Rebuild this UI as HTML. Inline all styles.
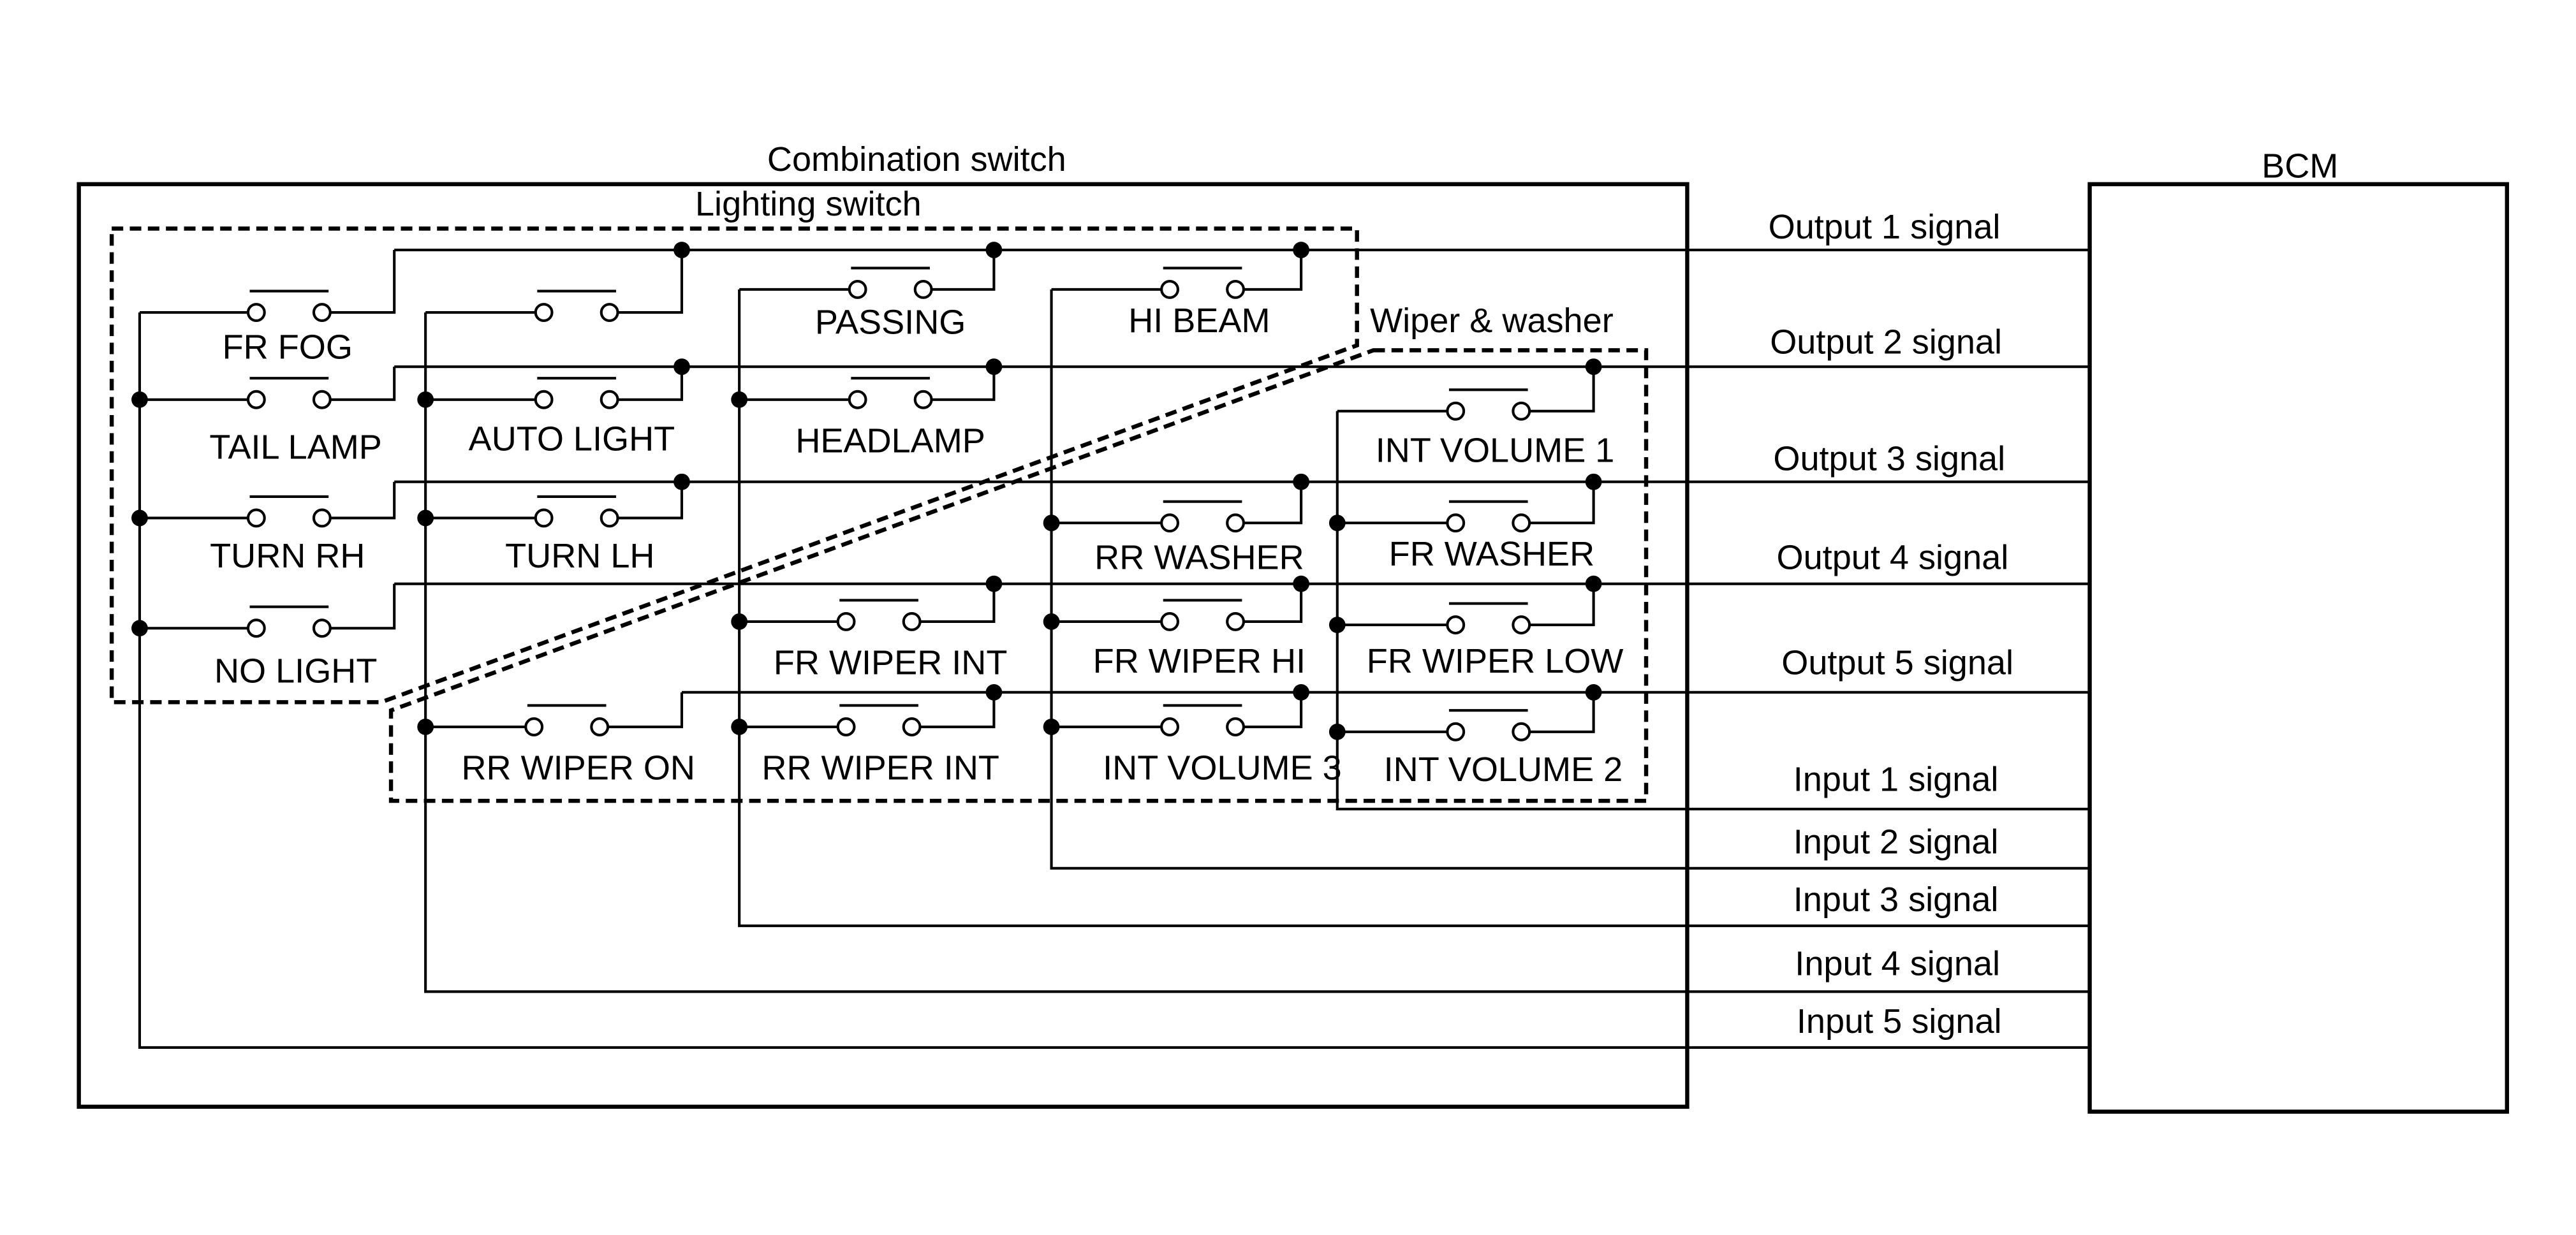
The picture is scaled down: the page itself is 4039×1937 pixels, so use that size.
<!DOCTYPE html>
<html><head><meta charset="utf-8"><style>
html,body{margin:0;padding:0;background:#fff;}
svg{display:block;}
text{font-family:"Liberation Sans",sans-serif;font-size:21px;fill:#000;text-anchor:middle;}
</style></head><body>
<svg width="4039" height="1937" viewBox="0 0 1568 751" preserveAspectRatio="none" xmlns="http://www.w3.org/2000/svg" xmlns:xlink="http://www.w3.org/1999/xlink">
<defs>
<g id="c" stroke="#000" stroke-width="1.6"><circle cx="0" cy="0" r="5" fill="#fff"/><circle cx="40" cy="0" r="5" fill="#fff"/><path d="M-4,-13H44" fill="none"/></g>
</defs>
<g fill="none" stroke="#000" stroke-width="1.6">
<rect x="48" y="112" width="979" height="561" stroke-width="2.5"/>
<rect x="1272" y="112" width="254" height="564" stroke-width="2.5"/>
<path d="M68,139 H826 V210 L232,427 H68 Z" stroke-dasharray="7,4" stroke-width="2.5"/>
<path d="M836,213 H1002 V487 H238 V432 Z" stroke-dasharray="7,4" stroke-width="2.5"/>
<path d="M240,152 H1272 M240,223 H1272 M240,293 H1272 M240,355 H1272 M415,421 H1272"/>
<path d="M85,190 V637 H1272 M259,190 V603 H1272 M450,176 V563 H1272 M640,176 V528 H1272 M814,250 V492 H1272"/>
<path d="M85,190H151M201,190H240V152"/>
<path d="M85,243H151M201,243H240V223"/>
<path d="M85,315H151M201,315H240V293"/>
<path d="M85,382H151M201,382H240V355"/>
<path d="M259,190H326M376,190H415V152"/>
<path d="M259,243H326M376,243H415V223"/>
<path d="M259,315H326M376,315H415V293"/>
<path d="M259,442H320M370,442H415V421"/>
<path d="M450,176H517M567,176H605V152"/>
<path d="M450,243H517M567,243H605V223"/>
<path d="M450,378H510M560,378H605V355"/>
<path d="M450,442H510M560,442H605V421"/>
<path d="M640,176H707M757,176H792V152"/>
<path d="M640,318H707M757,318H792V293"/>
<path d="M640,378H707M757,378H792V355"/>
<path d="M640,442H707M757,442H792V421"/>
<path d="M814,250H881M931,250H970V223"/>
<path d="M814,318H881M931,318H970V293"/>
<path d="M814,380H881M931,380H970V355"/>
<path d="M814,445H881M931,445H970V421"/>
</g>
<use xlink:href="#c" x="156" y="190"/><use xlink:href="#c" x="156" y="243"/><use xlink:href="#c" x="156" y="315"/><use xlink:href="#c" x="156" y="382"/>
<use xlink:href="#c" x="331" y="190"/><use xlink:href="#c" x="331" y="243"/><use xlink:href="#c" x="331" y="315"/><use xlink:href="#c" x="325" y="442"/>
<use xlink:href="#c" x="522" y="176"/><use xlink:href="#c" x="522" y="243"/><use xlink:href="#c" x="515" y="378"/><use xlink:href="#c" x="515" y="442"/>
<use xlink:href="#c" x="712" y="176"/><use xlink:href="#c" x="712" y="318"/><use xlink:href="#c" x="712" y="378"/><use xlink:href="#c" x="712" y="442"/>
<use xlink:href="#c" x="886" y="250"/><use xlink:href="#c" x="886" y="318"/><use xlink:href="#c" x="886" y="380"/><use xlink:href="#c" x="886" y="445"/>
<g fill="#000">
<circle cx="415" cy="152" r="5"/><circle cx="605" cy="152" r="5"/><circle cx="792" cy="152" r="5"/>
<circle cx="415" cy="223" r="5"/><circle cx="605" cy="223" r="5"/><circle cx="970" cy="223" r="5"/>
<circle cx="415" cy="293" r="5"/><circle cx="792" cy="293" r="5"/><circle cx="970" cy="293" r="5"/>
<circle cx="605" cy="355" r="5"/><circle cx="792" cy="355" r="5"/><circle cx="970" cy="355" r="5"/>
<circle cx="605" cy="421" r="5"/><circle cx="792" cy="421" r="5"/><circle cx="970" cy="421" r="5"/>
<circle cx="85" cy="243" r="5"/><circle cx="85" cy="315" r="5"/><circle cx="85" cy="382" r="5"/>
<circle cx="259" cy="243" r="5"/><circle cx="259" cy="315" r="5"/><circle cx="259" cy="442" r="5"/>
<circle cx="450" cy="243" r="5"/><circle cx="450" cy="378" r="5"/><circle cx="450" cy="442" r="5"/>
<circle cx="640" cy="318" r="5"/><circle cx="640" cy="378" r="5"/><circle cx="640" cy="442" r="5"/>
<circle cx="814" cy="318" r="5"/><circle cx="814" cy="380" r="5"/><circle cx="814" cy="445" r="5"/>
</g>
<text x="558" y="104">Combination switch</text>
<text x="492" y="131">Lighting switch</text>
<text x="908" y="202">Wiper &amp; washer</text>
<text x="1400" y="108">BCM</text>
<text x="1147" y="145">Output 1 signal</text>
<text x="1148" y="215">Output 2 signal</text>
<text x="1150" y="286">Output 3 signal</text>
<text x="1152" y="346">Output 4 signal</text>
<text x="1155" y="410">Output 5 signal</text>
<text x="1154" y="481">Input 1 signal</text>
<text x="1154" y="519">Input 2 signal</text>
<text x="1154" y="554">Input 3 signal</text>
<text x="1155" y="593">Input 4 signal</text>
<text x="1156" y="628">Input 5 signal</text>
<text x="175" y="218">FR FOG</text>
<text x="180" y="279">TAIL LAMP</text>
<text x="175" y="345">TURN RH</text>
<text x="180" y="415">NO LIGHT</text>
<text x="348" y="274">AUTO LIGHT</text>
<text x="353" y="345">TURN LH</text>
<text x="352" y="474">RR WIPER ON</text>
<text x="542" y="203">PASSING</text>
<text x="542" y="275">HEADLAMP</text>
<text x="542" y="410">FR WIPER INT</text>
<text x="536" y="474">RR WIPER INT</text>
<text x="730" y="202">HI BEAM</text>
<text x="730" y="346">RR WASHER</text>
<text x="730" y="409">FR WIPER HI</text>
<text x="744" y="474">INT VOLUME 3</text>
<text x="910" y="281">INT VOLUME 1</text>
<text x="908" y="344">FR WASHER</text>
<text x="910" y="409">FR WIPER LOW</text>
<text x="915" y="475">INT VOLUME 2</text>
</svg>
</body></html>
